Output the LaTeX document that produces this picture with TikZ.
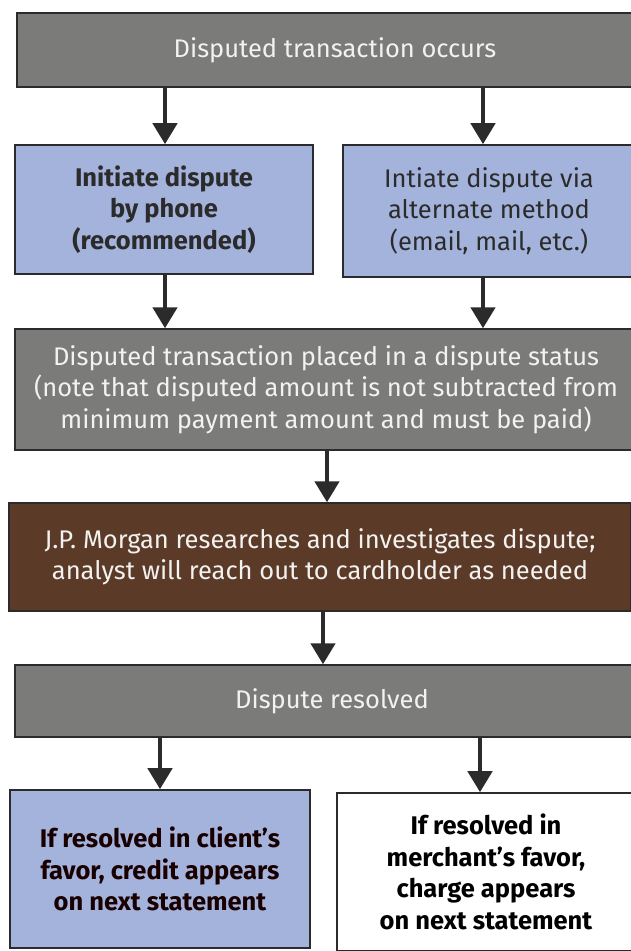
\documentclass[tikz,border=0pt]{standalone}
\usepackage{fontspec}
\setmainfont{Fira Sans}
\usetikzlibrary{arrows.meta}
\definecolor{boxgray}{HTML}{7B7B79}
\definecolor{boxblue}{HTML}{A4B3DB}
\definecolor{boxbrown}{HTML}{5C3A28}
\definecolor{inkdark}{HTML}{2B2B2B}
\definecolor{lighttext}{HTML}{F2F2F0}
\newcommand{\boxfont}{\fontsize{25.5}{31.5}\selectfont}
\begin{document}
\begin{tikzpicture}[x=1pt,y=-1pt,
  every node/.style={font=\boxfont, align=center, inner sep=0pt},
  graybox/.style={draw=inkdark, line width=1.4pt, fill=boxgray, text=lighttext},
  bluebox/.style={draw=inkdark, line width=1.6pt, fill=boxblue, text=inkdark},
  brownbox/.style={draw=inkdark, line width=1.4pt, fill=boxbrown, text=lighttext},
  whitebox/.style={draw=inkdark, line width=1.6pt, fill=white, text=black},
  flow/.style={draw=inkdark, line width=4.5pt, -{Triangle[width=24pt,length=21pt]}}
]
\useasboundingbox (0,0) rectangle (631,951);
\clip (0,0) rectangle (631,951);

% boxes, top to bottom
\node[graybox, minimum width=636pt, minimum height=74pt] (occurs) at (335,50)
  {Disputed transaction occurs};
\node[bluebox, minimum width=298pt, minimum height=129pt, font=\boxfont\bfseries] (phone) at (164,209.5)
  {Initiate dispute\\by phone\\(recommended)};
\node[bluebox, minimum width=292pt, minimum height=132pt] (alt) at (489,211)
  {Intiate dispute via\\alternate method\\(email, mail, etc.)};
\node[graybox, minimum width=622pt, minimum height=121pt] (status) at (326,389.5)
  {Disputed transaction placed in a dispute status\\(note that disputed amount is not subtracted from\\minimum payment amount and must be paid)};
\node[brownbox, minimum width=622pt, minimum height=108pt] (research) at (320,557)
  {J.P. Morgan researches and investigates dispute;\\analyst will reach out to cardholder as needed};
\node[graybox, minimum width=634pt, minimum height=72pt] (resolved) at (332,701)
  {Dispute resolved};
\node[bluebox, minimum width=300pt, minimum height=158pt, font=\boxfont\bfseries, text=black!90!red] (client) at (160,869)
  {If resolved in client’s\\favor, credit appears\\on next statement};
\node[whitebox, minimum width=298pt, minimum height=158pt, font=\boxfont\bfseries] (merchant) at (486,872)
  {If resolved in\\merchant’s favor,\\charge appears\\on next statement};

% arrow columns
\coordinate (colL) at (165,0);
\coordinate (colR) at (483,0);
\coordinate (colM) at (327,0);
\coordinate (colN) at (323,0);
\coordinate (colBL) at (160,0);
\coordinate (colBR) at (480,0);

% connectors
\draw[flow] (occurs.south -| colL) -- (phone.north -| colL);
\draw[flow] (occurs.south -| colR) -- (alt.north -| colR);
\draw[flow] (phone.south -| colL) -- (status.north -| colL);
\draw[flow] (alt.south -| colR) -- (status.north -| colR);
\draw[flow] (status.south -| colM) -- (research.north -| colM);
\draw[flow] (research.south -| colN) -- (resolved.north -| colN);
\draw[flow] (resolved.south -| colBL) -- (client.north -| colBL);
\draw[flow] (resolved.south -| colBR) -- (merchant.north -| colBR);
\end{tikzpicture}
\end{document}
